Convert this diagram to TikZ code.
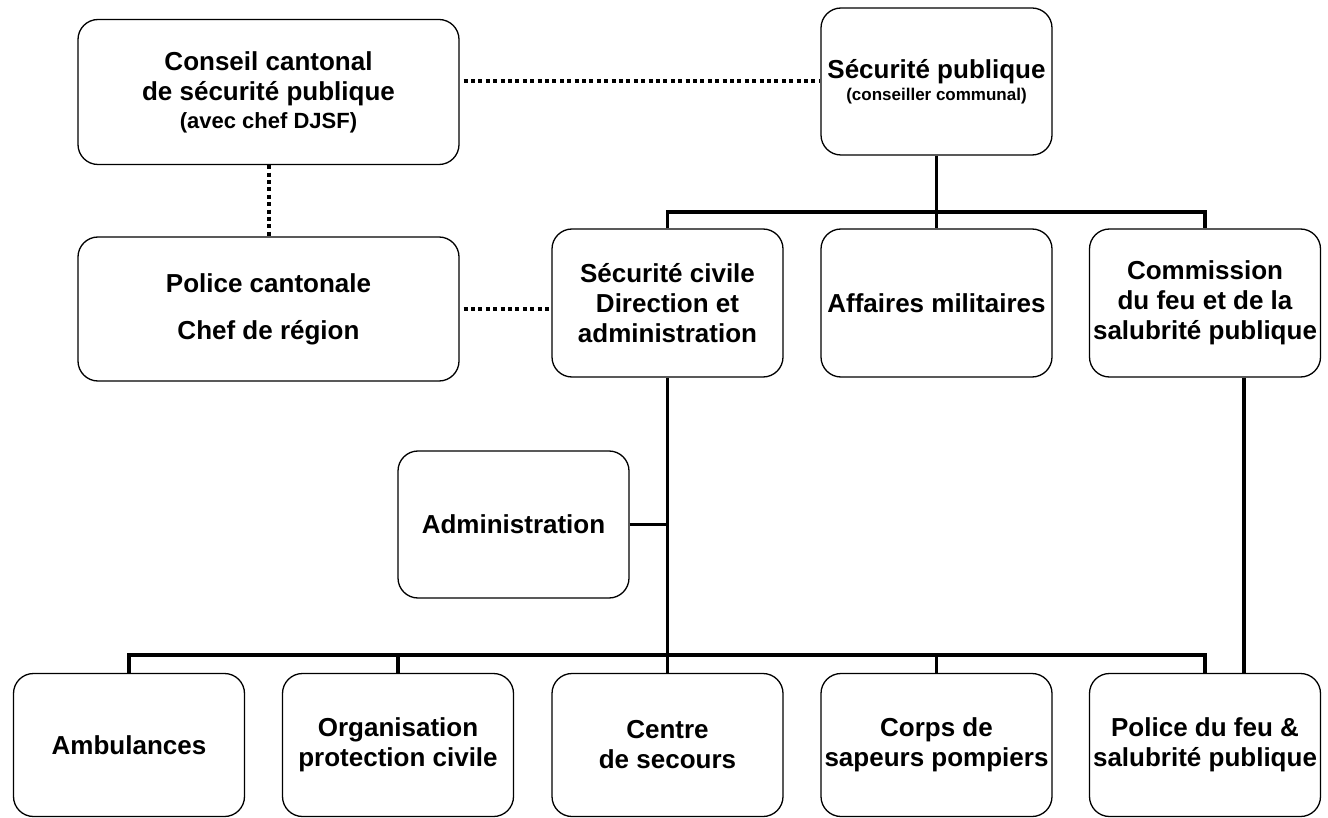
\documentclass[tikz,border=0pt]{standalone}
\usepackage{fontspec}
\setmainfont{Liberation Sans}
\begin{document}
\begin{tikzpicture}[x=1pt,y=-1pt,
  box/.style={draw=black, line width=1.3pt, rounded corners=20pt, fill=white,
    minimum width=231pt, minimum height=146pt, inner sep=0pt, align=center,
    font=\bfseries\fontsize{26}{30}\selectfont},
  widebox/.style={box, minimum width=381pt},
  link/.style={line width=3.4pt},
  dotlink/.style={line width=4pt, dash pattern=on 4pt off 3.4pt}
]
\fill[white] (0,0) rectangle (1328,818);
\useasboundingbox (0,0) rectangle (1328,818);

% upper left: cantonal level
\node[widebox, minimum height=145pt] (conseil) at (268.5,92)
  {Conseil cantonal\\de sécurité publique\\[-2pt]{\fontsize{22}{26}\selectfont (avec chef DJSF)}};
\node[widebox, minimum height=144pt] (police) at (268.5,309)
  {Police cantonale\\[17pt]Chef de région};

% communal head
\node[box, minimum height=147pt] (secpub) at (936.5,81.5)
  {Sécurité publique\\[-8pt]{\fontsize{17}{20}\selectfont (conseiller communal)}};

% second row
\node[box, minimum height=148pt] (civile) at (667.5,303)
  {Sécurité civile\\Direction et\\administration};
\node[box, minimum height=148pt] (militaire) at (936.5,303)
  {Affaires militaires};
\node[box, minimum height=148pt] (commission) at (1205,303)
  {Commission\\du feu et de la\\salubrité publique};

\node[box, minimum height=147pt] (admin) at (513.5,524.5) {Administration};

% bottom row
\node[box, minimum height=143pt] (amb)   at (129,745) {Ambulances};
\node[box, minimum height=143pt] (opc)   at (398,745) {Organisation\\protection civile};
\node[box, minimum height=143pt] (centre) at (667.5,745) {Centre\\de secours};
\node[box, minimum height=143pt] (pomp)  at (936.5,745) {Corps de\\sapeurs pompiers};
\node[box, minimum height=143pt] (feu)   at (1205,745) {Police du feu \&\\salubrité publique};

% dotted liaison lines
\draw[dotlink] ([xshift=4pt]conseil.east |- secpub.west) -- (secpub.west);
\draw[dotlink] (conseil.south) -- (police.north);
\draw[dotlink] ([xshift=4pt]police.east) -- (police.east -| civile.west);

% hierarchy under Sécurité publique
\coordinate (bar1) at (936.5,212);
\draw[link] (secpub.south) -- (bar1);
\draw[link] (civile.north) |- (bar1) -| (commission.north);
\draw[link] (bar1) -- (militaire.north);

% hierarchy under Sécurité civile
\coordinate (bar2) at (667.5,655);
\draw[link] (civile.south) -- (bar2);
\draw[link] (admin.east) -- (admin.east -| civile.south);
\draw[link] (amb.north) |- (bar2) -| (feu.north);
\draw[link] (opc.north) -- (opc.north |- bar2);
\draw[link] (bar2) -- (centre.north);
\draw[link] (pomp.north) -- (pomp.north |- bar2);

% Commission to Police du feu
\coordinate (cf) at (1244,0);
\draw[link] (commission.south -| cf) -- (feu.north -| cf);
\end{tikzpicture}
\end{document}
